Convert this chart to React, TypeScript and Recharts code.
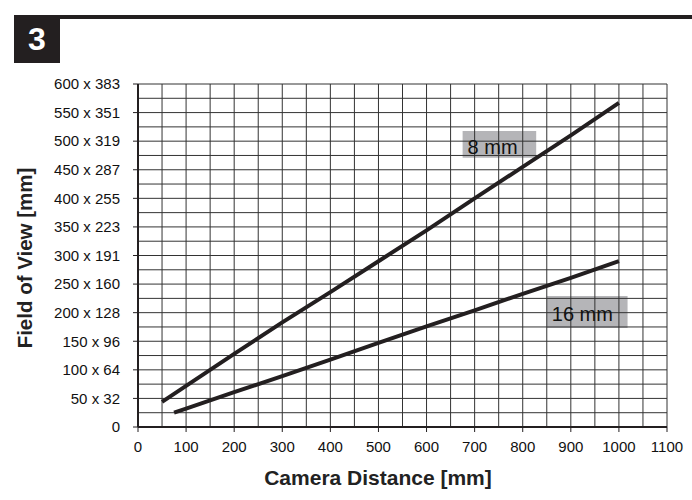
import { Line, LineChart, ReferenceArea, ReferenceLine, XAxis, YAxis } from "recharts"

const distances8 = [50, 100, 200, 300, 400, 500, 600, 700, 800, 900, 1000]
const fov8 = [44, 72, 128, 183, 236, 290, 344, 400, 455, 510, 567]
const distances16 = [75, 100, 200, 300, 400, 500, 600, 700, 800, 900, 1000]
const fov16 = [25, 32, 61, 89, 118, 147, 176, 204, 233, 261, 290]

const xTicks = [0, 100, 200, 300, 400, 500, 600, 700, 800, 900, 1000, 1100]
const yTicks = [0, 50, 100, 150, 200, 250, 300, 350, 400, 450, 500, 550, 600]
const yTickLabels = [
  "0",
  "50 x 32",
  "100 x 64",
  "150 x 96",
  "200 x 128",
  "250 x 160",
  "300 x 191",
  "350 x 223",
  "400 x 255",
  "450 x 287",
  "500 x 319",
  "550 x 351",
  "600 x 383",
]

// grid every 50 mm across, every 25 down
const gridX = Array.from({ length: 23 }, (_, i) => i * 50)
const gridY = Array.from({ length: 25 }, (_, i) => i * 25)

const series8 = distances8.map((x, i) => ({ x, fov: fov8[i] }))
const series16 = distances16.map((x, i) => ({ x, fov: fov16[i] }))

const font = "'Liberation Sans', Arial, Helvetica, sans-serif"
const ink = "#231f20"

export default function App() {
  return (
    <div style={{ position: "absolute", left: 0, top: 0, width: 692, height: 500, background: "#fff", fontFamily: font }}>
      {/* header */}
      <div style={{ position: "absolute", left: 14, top: 15, width: 678, height: 4, background: ink }} />
      <div
        style={{
          position: "absolute",
          left: 14,
          top: 15,
          width: 46,
          height: 48,
          background: ink,
          color: "#fff",
          fontWeight: 700,
          fontSize: 32,
          lineHeight: "48px",
          textAlign: "center",
        }}
      >
        3
      </div>

      <LineChart
        width={692}
        height={500}
        margin={{ top: 84, right: 25, bottom: 33, left: 0 }}
        style={{ position: "absolute", left: 0, top: 0 }}
      >
        <XAxis
          type="number"
          dataKey="x"
          domain={[0, 1100]}
          ticks={xTicks}
          height={40}
          tickSize={5}
          tickMargin={9}
          axisLine={{ stroke: ink, strokeWidth: 2 }}
          tickLine={{ stroke: ink }}
          tick={{ fill: "#111", fontSize: 15, fontFamily: font }}
        />
        <YAxis
          type="number"
          domain={[0, 600]}
          ticks={yTicks}
          width={138}
          tickSize={5}
          tickMargin={13}
          axisLine={{ stroke: ink, strokeWidth: 2 }}
          tickLine={{ stroke: ink }}
          tick={{ fill: "#111", fontSize: 15, fontFamily: font }}
          tickFormatter={(_v: number, i: number) => yTickLabels[i]}
        />
        {gridX.map((v) => (
          <ReferenceLine key={"gx" + v} x={v} stroke="#333" strokeWidth={1} />
        ))}
        {gridY.map((v) => (
          <ReferenceLine key={"gy" + v} y={v} stroke="#333" strokeWidth={1} />
        ))}
        <ReferenceArea
          x1={675}
          x2={828}
          y1={471}
          y2={518}
          fill="#b5b5b8"
          fillOpacity={1}
          stroke="none"
          label={{ value: "8 mm", position: "insideLeft", fill: "#111", fontSize: 20, fontFamily: font, offset: 5, dy: 3 }}
        />
        <ReferenceArea
          x1={850}
          x2={1018}
          y1={173}
          y2={229}
          fill="#b5b5b8"
          fillOpacity={1}
          stroke="none"
          label={{ value: "16 mm", position: "insideLeft", fill: "#111", fontSize: 20, fontFamily: font, offset: 5, dy: 2 }}
        />
        <Line
          data={series8}
          dataKey="fov"
          type="linear"
          stroke={ink}
          strokeWidth={4}
          dot={false}
          isAnimationActive={false}
        />
        <Line
          data={series16}
          dataKey="fov"
          type="linear"
          stroke={ink}
          strokeWidth={4}
          dot={false}
          isAnimationActive={false}
        />
      </LineChart>

      {/* axis titles */}
      <div
        style={{
          position: "absolute",
          left: 228,
          width: 300,
          top: 466,
          textAlign: "center",
          fontWeight: 700,
          fontSize: 21,
          color: "#222",
        }}
      >
        Camera Distance [mm]
      </div>
      <div
        style={{
          position: "absolute",
          left: 25,
          top: 258,
          transform: "translate(-50%, -50%) rotate(-90deg)",
          whiteSpace: "nowrap",
          fontWeight: 700,
          fontSize: 20.5,
          color: "#222",
        }}
      >
        Field of View [mm]
      </div>
    </div>
  )
}
